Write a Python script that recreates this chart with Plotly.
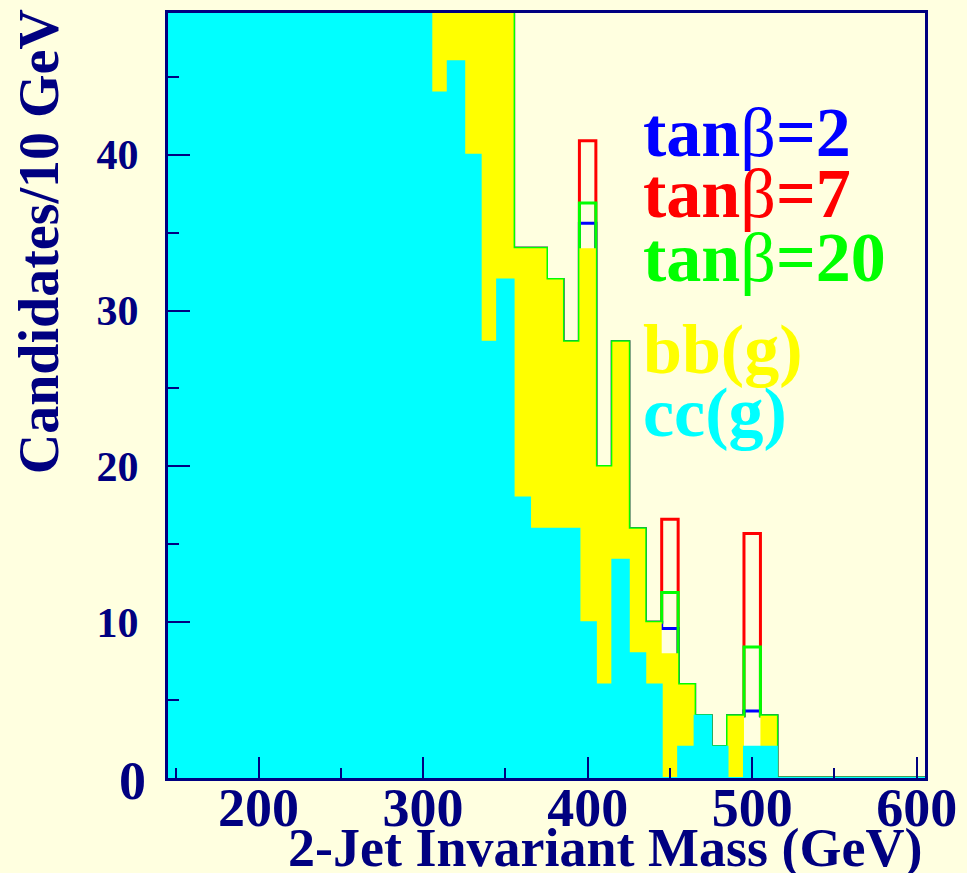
import plotly.graph_objects as go

# ---------------- data ----------------
bin_centers = list(range(150, 601, 10))          # 2-jet mass bins (GeV)
bin_width = 10

# cc(g) background (cyan); bins 150-300 run off the top of the frame
cc_counts = [160, 150, 140, 131, 122, 114, 106, 99, 92, 86, 80, 74, 68, 62, 57, 52,
             44, 46, 40, 28, 32, 18, 16, 16, 16, 10, 6, 14, 8, 6, 0, 2, 4, 2, 0, 2, 2,
             0, 0, 0, 0, 0, 0, 0, 0, 0]
# bb(g) background (yellow, stacked on cc)
bb_counts = [60, 58, 56, 54, 52, 50, 48, 46, 44, 42, 40, 38, 36, 34, 32, 30,
             12, 10, 14, 24, 20, 16, 18, 16, 12, 24, 14, 14, 8, 4, 8, 4, 0, 0, 4, 0, 2,
             0, 0, 0, 0, 0, 0, 0, 0, 0]

# signal excess above background
signal_masses = [400, 450, 500]
sig_tanb2 = [1.6, 1.6, 2.3]
sig_tanb7 = [6.9, 8.6, 13.7]
sig_tanb20 = [2.9, 3.9, 6.4]

x_tickvals = [200, 300, 400, 500, 600]
y_tickvals = [0, 10, 20, 30, 40]
y_ticktext = ["", "10", "20", "30", "40"]

# ---------------- styling ----------------
NAVY = "#000080"
BG = "#FFFFE0"
FONT = "Liberation Serif"

bkg_total = [b + c for b, c in zip(bb_counts, cc_counts)]


def with_signal(sig):
    out = list(bkg_total)
    for m, s in zip(signal_masses, sig):
        out[bin_centers.index(m)] += s
    return out


def step_xy(vals):
    xs = [c - bin_width / 2 for c in bin_centers] + [bin_centers[-1] + bin_width / 2]
    ys = list(vals) + [vals[-1]]
    return xs, ys


fig = go.Figure()

for sig, col in [(sig_tanb7, "#FF0000"), (sig_tanb2, "#0000FF"), (sig_tanb20, "#00FF00")]:
    xs, ys = step_xy(with_signal(sig))
    fig.add_trace(go.Scatter(x=xs, y=ys, mode="lines", line=dict(color=col, width=3, shape="hv"),
                             hoverinfo="skip", showlegend=False))

xs, ys = step_xy(bkg_total)
fig.add_trace(go.Scatter(x=xs, y=ys, mode="lines", fill="tozeroy", fillcolor="#FFFF00",
                         line=dict(color="#FFFF00", width=0, shape="hv"),
                         hoverinfo="skip", showlegend=False))
xs, ys = step_xy(cc_counts)
fig.add_trace(go.Scatter(x=xs, y=ys, mode="lines", fill="tozeroy", fillcolor="#00FFFF",
                         line=dict(color="#00FFFF", width=2, shape="hv"),
                         hoverinfo="skip", showlegend=False))

L, R, T, B = 168, 35, 10, 95
W, H = 967, 873
PW, PH = W - L - R, H - T - B


def px(x):
    return (x - L) / PW


def py(y):
    return (H - B - y) / PH


fig.update_layout(
    width=W, height=H,
    margin=dict(l=L, r=R, t=T, b=B, pad=0),
    paper_bgcolor=BG, plot_bgcolor=BG,
    showlegend=False,
    xaxis=dict(range=[145, 605], showgrid=False, zeroline=False,
               showline=True, linecolor=NAVY, linewidth=3, mirror=True,
               tickvals=x_tickvals, ticks="inside", ticklen=21, tickwidth=2, tickcolor=NAVY,
               minor=dict(dtick=50, tick0=0, ticks="inside", ticklen=10, tickwidth=2, tickcolor=NAVY),
               tickfont=dict(family=FONT, size=54, color=NAVY, weight="bold"),
               ticklabelstandoff=-20),
    yaxis=dict(range=[0, 49.1], showgrid=False, zeroline=False,
               showline=True, linecolor=NAVY, linewidth=3, mirror=True,
               tickvals=y_tickvals, ticktext=y_ticktext,
               ticks="inside", ticklen=22, tickwidth=2, tickcolor=NAVY,
               minor=dict(dtick=5, tick0=0, ticks="inside", ticklen=11, tickwidth=2, tickcolor=NAVY),
               tickfont=dict(family=FONT, size=42, color=NAVY, weight="bold"),
               ticklabelstandoff=18),
)

ann = []
# y-axis "0" label (drawn taller in the original)
ann.append(dict(text="0", x=px(148), y=py(781), xref="paper", yref="paper",
                xanchor="right", yanchor="middle", showarrow=False,
                font=dict(family=FONT, size=54, color=NAVY, weight="bold")))
# axis titles
ann.append(dict(text="2-Jet Invariant Mass (GeV)", x=px(931), y=py(848), xref="paper", yref="paper",
                xanchor="right", yanchor="middle", showarrow=False,
                font=dict(family=FONT, size=54, color=NAVY, weight="bold")))
ann.append(dict(text="Candidates/10 GeV", x=px(38), y=py(240), xref="paper", yref="paper",
                xanchor="center", yanchor="middle", textangle=-90, showarrow=False,
                font=dict(family=FONT, size=56, color=NAVY, weight="bold")))
# legend texts
beta = "<span style='font-weight:normal'>β</span>"
legend_items = [("tan" + beta + "=2", "#0000FF", 130),
                ("tan" + beta + "=7", "#FF0000", 191),
                ("tan" + beta + "=20", "#00FF00", 255),
                ("bb(g)", "#FFFF00", 348),
                ("cc(g)", "#00FFFF", 411)]
for txt, col, yy in legend_items:
    ann.append(dict(text=txt, x=px(645), y=py(yy), xref="paper", yref="paper",
                    xanchor="left", yanchor="middle", showarrow=False,
                    font=dict(family=FONT, size=70, color=col, weight="bold")))
fig.update_layout(annotations=ann)

fig.write_html("out.html")
